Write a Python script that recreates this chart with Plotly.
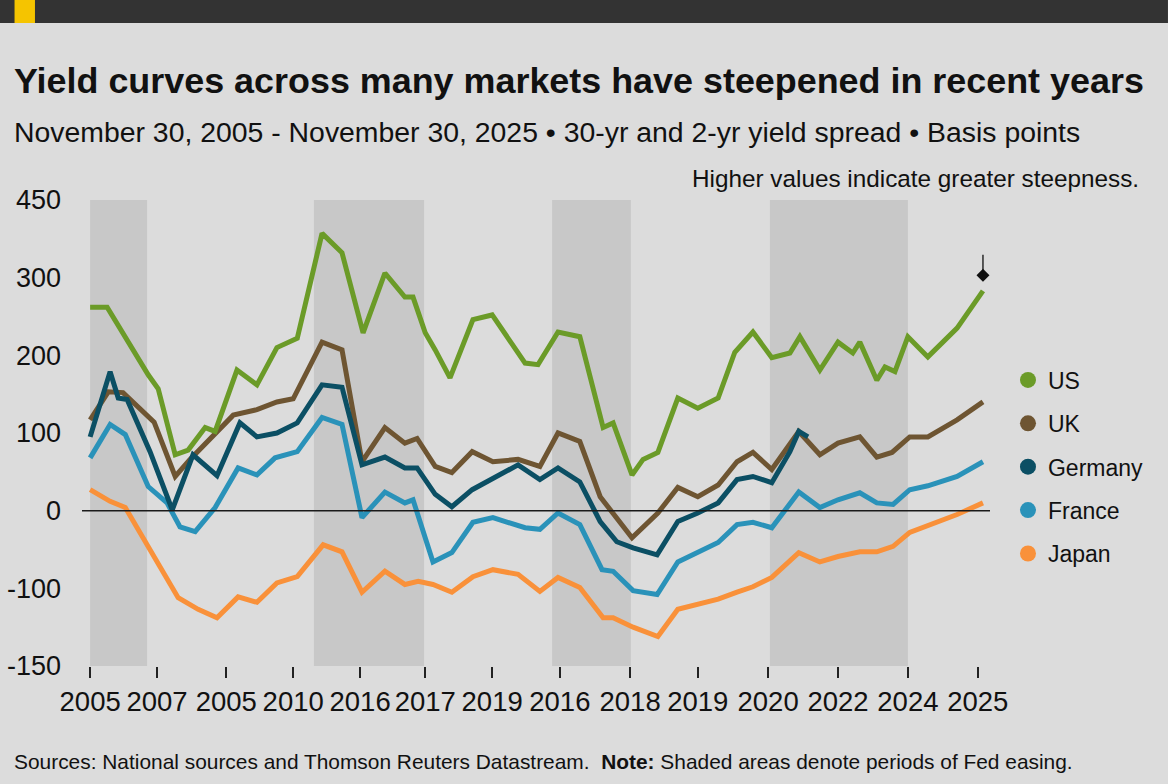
import plotly.graph_objects as go

# months since Nov 30, 2005
us_x = [0, 4.6, 15.7, 18.4, 23.0, 26.5, 31.1, 33.8, 39.7, 45.1, 50.5, 56.0, 62.7, 68.1, 73.8, 79.7, 85.1, 87.3, 90.6, 93.3, 97.3, 103.5, 108.7, 117.6, 121.1, 126.5, 132.4, 138.7, 141.4, 146.5, 149.5, 153.5, 158.9, 164.3, 169.8, 174.3, 179.2, 184.3, 189.2, 191.9, 197.3, 202.2, 206.2, 208.1, 212.7, 214.9, 217.6, 221.1, 226.5, 234.4, 241.4]
us_y = [262, 262, 175, 157, 72, 78, 107, 102, 181, 162, 210, 222, 357, 332, 229, 306, 275, 275, 229, 207, 171, 246, 252, 190, 188, 230, 224, 107, 113, 46, 66, 75, 145, 132, 145, 204, 230, 197, 203, 224, 181, 217, 203, 217, 168, 185, 179, 224, 198, 235, 283]

uk_x = [0, 4.9, 8.9, 17.3, 23.0, 27.0, 38.7, 45.1, 50.5, 54.9, 62.7, 68.1, 73.5, 79.7, 85.1, 88.4, 93.3, 97.8, 103.3, 108.9, 115.7, 121.6, 126.5, 132.4, 137.9, 141.4, 146.5, 153.5, 158.9, 164.3, 169.8, 174.9, 179.2, 184.3, 189.2, 191.6, 197.3, 202.2, 208.1, 212.7, 216.8, 221.6, 226.5, 234.4, 241.4]
uk_y = [117, 153, 152, 114, 44, 66, 123, 130, 140, 144, 217, 207, 63, 107, 87, 93, 57, 49, 76, 63, 66, 57, 100, 89, 18, -3, -35, -3, 30, 18, 33, 63, 75, 53, 87, 102, 72, 87, 95, 69, 75, 95, 95, 117, 140]

de_x = [0, 2.7, 5.4, 7.6, 10.0, 16.2, 22.2, 27.8, 34.3, 40.5, 45.1, 50.5, 56.0, 62.7, 68.1, 73.5, 79.7, 85.1, 88.4, 93.3, 97.8, 103.3, 108.9, 115.7, 121.6, 126.5, 132.4, 137.9, 142.4, 146.8, 153.3, 158.9, 164.3, 169.8, 174.9, 179.2, 184.3, 189.2, 191.6, 194.1]
de_y = [95, 136, 179, 145, 143, 76, 1, 72, 45, 113, 95, 100, 113, 162, 159, 59, 69, 55, 55, 21, 5, 27, 42, 59, 40, 55, 37, -14, -40, -48, -57, -14, -3, 10, 40, 44, 36, 76, 102, 95]

fr_x = [0, 5.4, 9.5, 15.7, 20.8, 24.3, 28.4, 33.8, 40.0, 45.1, 50.0, 56.0, 62.7, 68.1, 73.5, 79.7, 85.1, 87.3, 92.7, 97.8, 103.5, 108.9, 117.6, 121.6, 126.5, 132.4, 138.4, 141.4, 146.8, 153.3, 158.9, 164.3, 169.8, 174.9, 179.2, 184.3, 191.6, 197.3, 202.2, 208.1, 212.7, 217.1, 221.6, 226.5, 234.4, 241.4]
fr_y = [68, 111, 98, 31, 10, -21, -27, 4, 55, 46, 68, 76, 120, 111, -9, 24, 10, 14, -66, -54, -15, -9, -22, -24, -3, -18, -76, -78, -103, -108, -66, -53, -41, -18, -15, -22, 24, 4, 14, 23, 10, 8, 27, 32, 44, 63]

jp_x = [0, 5.4, 9.5, 16.8, 23.8, 29.2, 34.3, 40.0, 45.1, 50.5, 56.0, 63.0, 68.1, 73.5, 79.7, 85.1, 88.7, 92.7, 97.8, 103.5, 108.9, 115.7, 121.6, 126.5, 132.4, 138.7, 141.4, 146.8, 153.5, 158.9, 164.3, 169.8, 174.9, 179.2, 184.3, 191.6, 197.3, 202.2, 208.1, 212.7, 217.1, 221.6, 234.4, 241.4]
jp_y = [27, 12, 4, -54, -112, -127, -138, -111, -118, -93, -85, -44, -53, -105, -78, -95, -91, -95, -105, -85, -76, -82, -104, -86, -99, -138, -138, -150, -162, -127, -121, -114, -105, -98, -86, -54, -66, -59, -53, -53, -46, -28, -5, 10]

easing_start = [0, 60.5, 124.9, 183.8]
easing_end = [15.4, 90.3, 146.2, 221.1]

x_tick_pos = [0, 18.1, 36.8, 54.9, 73.0, 90.6, 108.7, 127.0, 146.0, 164.3, 183.3, 202.2, 221.1, 240.0]
x_tick_text = ["2005", "2007", "2005", "2010", "2016", "2017", "2019", "2016", "2018", "2019", "2020", "2022", "2024", "2025"]
y_tick_pos = [-200, -100, 0, 100, 200, 300, 400]
y_tick_text = ["-150", "-100", "0", "100", "200", "300", "450"]

names = ["US", "UK", "Germany", "France", "Japan"]
colors = {"US": "#6b9b28", "UK": "#6e5532", "Germany": "#0b4f64", "France": "#2a92b9", "Japan": "#f9913a"}
series = {"US": (us_x, us_y), "UK": (uk_x, uk_y), "Germany": (de_x, de_y), "France": (fr_x, fr_y), "Japan": (jp_x, jp_y)}

FONT = "Liberation Sans"
fig = go.Figure()

for s, e in zip(easing_start, easing_end):
    fig.add_vrect(x0=s, x1=e, fillcolor="#c8c8c8", line_width=0, layer="below")

fig.add_hline(y=0, line_color="#1a1a1a", line_width=1.5)

draw_order = ["Japan", "France", "UK", "Germany", "US"]
for n in draw_order:
    xs, ys = series[n]
    fig.add_trace(go.Scatter(x=xs, y=ys, mode="lines", name=n, showlegend=False,
                             line=dict(color=colors[n], width=5)))

for i, n in enumerate(names):
    fig.add_trace(go.Scatter(x=[None], y=[None], mode="markers", name=n, legendgroup=n,
                             legendrank=i + 1,
                             marker=dict(color=colors[n], size=16, symbol="circle")))

# end-point pointer above the latest US value
fig.add_trace(go.Scatter(x=[us_x[-1]], y=[us_y[-1] + 20], mode="markers", showlegend=False,
                         hoverinfo="skip", marker=dict(symbol="diamond", size=10, color="#111")))
fig.add_annotation(x=us_x[-1], y=us_y[-1] + 20, ax=0, ay=-22, showarrow=True, arrowhead=0,
                   arrowwidth=1.3, arrowcolor="#111", text="")

fig.add_annotation(text="<b>Yield curves across many markets have steepened in recent years</b>",
                   xref="paper", yref="paper", x=-0.0771, y=1.255, xanchor="left", yanchor="middle",
                   showarrow=False, font=dict(size=35.9, color="#111", family=FONT))
fig.add_annotation(text="November 30, 2005 - November 30, 2025 \u2022 30-yr and 2-yr yield spread \u2022 Basis points",
                   xref="paper", yref="paper", x=-0.0771, y=1.146, xanchor="left", yanchor="middle",
                   showarrow=False, font=dict(size=28.4, color="#111", family=FONT))
fig.add_annotation(text="Higher values indicate greater steepness.",
                   xref="paper", yref="paper", x=1.1663, y=1.047, xanchor="right", yanchor="middle",
                   showarrow=False, font=dict(size=24.3, color="#111", family=FONT))
fig.add_annotation(text="Sources: National sources and Thomson Reuters Datastream.  <b>Note:</b> Shaded areas denote periods of Fed easing.",
                   xref="paper", yref="paper", x=-0.0771, y=-0.206, xanchor="left", yanchor="middle",
                   showarrow=False, font=dict(size=20.9, color="#111", family=FONT))

# top bar
fig.add_shape(type="rect", xref="paper", yref="paper", x0=-0.0903, x1=1.196, y0=1.3798, y1=1.4292,
              fillcolor="#333333", line_width=0, layer="above")
fig.add_shape(type="rect", xref="paper", yref="paper", x0=-0.0743, x1=-0.0518, y0=1.3798, y1=1.4292,
              fillcolor="#f5c400", line_width=0, layer="above")

fig.update_layout(
    width=1168, height=784,
    margin=dict(l=82, r=178, t=200, b=118, autoexpand=False),
    paper_bgcolor="#dcdcdc", plot_bgcolor="#dcdcdc",
    font=dict(family=FONT, color="#111"),
    showlegend=True,
    legend=dict(x=1.0198, y=0.66, xanchor="left", yanchor="top", font=dict(size=23, family=FONT),
                bgcolor="rgba(0,0,0,0)", tracegroupgap=10.5, itemsizing="trace"),
    xaxis=dict(range=[-2.2, 243.3], tickvals=x_tick_pos, ticktext=x_tick_text, showgrid=False,
               zeroline=False, showline=False, ticks="outside", ticklen=11, tickwidth=2,
               tickcolor="#222", tickfont=dict(size=27.5, family=FONT, color="#111"),
               automargin=False),
    yaxis=dict(range=[-200, 400], tickvals=y_tick_pos, ticktext=y_tick_text, showgrid=False,
               zeroline=False, showline=False, ticks="", ticklabelstandoff=20,
               tickfont=dict(size=27, family=FONT, color="#111"), automargin=False),
)

fig.write_html("out.html", config={"displayModeBar": False},
               post_script="document.body.style.margin='0';document.body.style.background='#dcdcdc';")
